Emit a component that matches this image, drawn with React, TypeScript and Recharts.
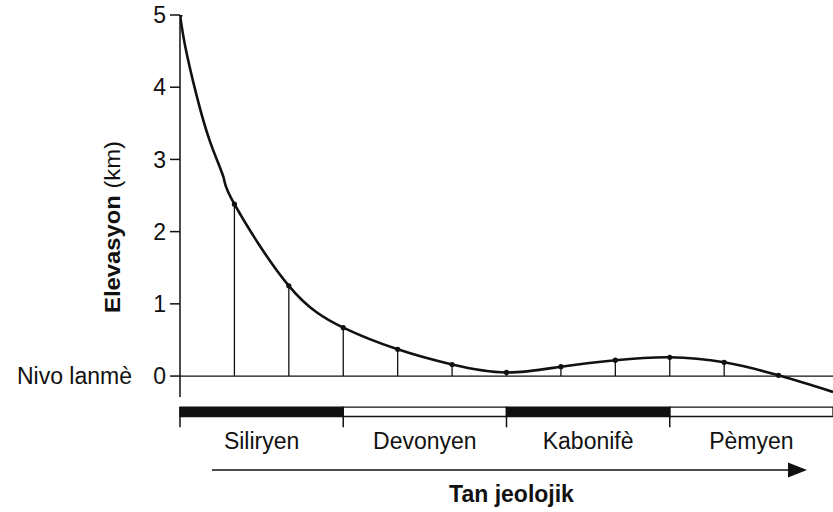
import React from 'react';
import { ComposedChart, Line, XAxis, YAxis, ReferenceLine, ReferenceArea } from 'recharts';

// stations along the time axis, with the elevation marked by a dot at each one
const stations = [0, 1, 2, 3, 4, 5, 6, 7, 8, 9, 10, 11, 12];
const elevation = [5.0, 2.38, 1.25, 0.67, 0.37, 0.16, 0.05, 0.13, 0.22, 0.26, 0.19, 0.01, -0.22];

const tracedX = [0.1, 0.3, 0.55, 0.8];
const tracedY = [4.55, 3.9, 3.25, 2.75];

const yTicks = [0, 1, 2, 3, 4, 5];

const periods = ['Siliryen', 'Devonyen', 'Kabonifè', 'Pèmyen'];
const periodStart = [0, 3, 6, 9];
const periodEnd = [3, 6, 9, 12];

const FONT = "'Liberation Sans', Arial, Helvetica, sans-serif";
const INK = '#111';

// period strip sits below the plot, in elevation units
const BAR_TOP = -0.43;
const BAR_BOTTOM = -0.56;
const TICK_BOTTOM = -0.71;

const dots = stations.map((s, i) => ({ x: s, y: elevation[i] }));
const curve = [
  ...dots,
  ...tracedX.map((x, i) => ({ x, y: tracedY[i] })),
].sort((a, b) => a.x - b.x);

const periodMid = periods.map((_, i) => (periodStart[i] + periodEnd[i]) / 2);

const YTick = (props: any) => {
  const { x, y, payload } = props;
  return (
    <g>
      <text x={x} y={y} dy="0.36em" textAnchor="end" fontSize={23} fill={INK}>
        {payload.value}
      </text>
      {payload.value === 0 && (
        <text x={x - 34} y={y} dy="0.36em" textAnchor="end" fontSize={23} fill={INK}>
          Nivo lanmè
        </text>
      )}
    </g>
  );
};

const PeriodTick = (props: any) => {
  const { x, y, payload } = props;
  const idx = periodMid.indexOf(payload.value);
  return (
    <text x={x} y={y + 52} textAnchor="middle" fontSize={23} fill={INK}>
      {periods[idx]}
    </text>
  );
};

const TimeLabel = (props: any) => {
  const vb = props.viewBox;
  const ay = vb.y + 73;
  const x0 = vb.x + 32;
  const tip = vb.x + vb.width - 26;
  return (
    <g>
      <line x1={x0} y1={ay} x2={tip - 12} y2={ay} stroke={INK} strokeWidth={1.5} />
      <polygon points={`${tip},${ay} ${tip - 19},${ay - 7.5} ${tip - 19},${ay + 7.5}`} fill={INK} />
      <text x={vb.x + vb.width / 2 + 5} y={vb.y + 105} textAnchor="middle" fontSize={23} fontWeight="bold" fill={INK}>
        Tan jeolojik
      </text>
    </g>
  );
};

const ElevLabel = (props: any) => {
  const vb = props.viewBox;
  const cx = vb.x + 112;
  const cy = 227;
  return (
    <text
      x={cx}
      y={cy}
      transform={`rotate(-90 ${cx} ${cy})`}
      textAnchor="middle"
      dominantBaseline="central"
      fontSize={22}
      fill={INK}
      textLength={172}
      lengthAdjust="spacingAndGlyphs"
    >
      <tspan fontWeight="bold">Elevasyon</tspan>
      <tspan> (km)</tspan>
    </text>
  );
};

export default function App() {
  return (
    <div style={{ position: 'absolute', left: 0, top: 0, width: 833, height: 512, background: '#fff', fontFamily: FONT }}>
      <ComposedChart width={833} height={512} margin={{ top: 15, right: 0, bottom: 0, left: 0 }}>
        <XAxis
          dataKey="x"
          type="number"
          domain={[0, 12]}
          ticks={periodMid}
          allowDataOverflow
          axisLine={false}
          tickLine={false}
          tickSize={0}
          tickMargin={0}
          height={115}
          tick={<PeriodTick />}
          interval={0}
          label={TimeLabel}
        />
        <YAxis
          type="number"
          domain={[-0.29, 5]}
          ticks={yTicks}
          allowDataOverflow
          width={180}
          tickSize={10}
          tickMargin={4}
          axisLine={{ stroke: INK, strokeWidth: 1.5 }}
          tickLine={{ stroke: INK, strokeWidth: 1.5 }}
          tick={<YTick />}
          interval={0}
          label={ElevLabel}
        />
        <ReferenceLine y={0} stroke={INK} strokeWidth={1.3} />
        {stations.slice(1, 11).map((s, i) => (
          <ReferenceLine
            key={'stem' + s}
            segment={[{ x: s, y: 0 }, { x: s, y: elevation[i + 1] }]}
            stroke={INK}
            strokeWidth={1.3}
          />
        ))}
        {periods.map((p, i) => (
          <ReferenceArea
            key={p}
            x1={periodStart[i]}
            x2={periodEnd[i]}
            y1={BAR_TOP}
            y2={BAR_BOTTOM}
            fill={i % 2 === 0 ? INK : '#fff'}
            fillOpacity={1}
            stroke={INK}
            strokeWidth={1.3}
            ifOverflow="visible"
          />
        ))}
        {periodStart.map((b) => (
          <ReferenceLine
            key={'div' + b}
            segment={[{ x: b, y: BAR_TOP }, { x: b, y: TICK_BOTTOM }]}
            stroke={INK}
            strokeWidth={1.5}
            ifOverflow="visible"
          />
        ))}
        <Line
          data={curve}
          dataKey="y"
          type="natural"
          stroke={INK}
          strokeWidth={2.6}
          dot={false}
          activeDot={false}
          isAnimationActive={false}
        />
        <Line
          data={dots.slice(0, 12)}
          dataKey="y"
          stroke="none"
          dot={{ r: 2.6, fill: INK, stroke: 'none' }}
          activeDot={false}
          isAnimationActive={false}
        />
      </ComposedChart>
    </div>
  );
}
